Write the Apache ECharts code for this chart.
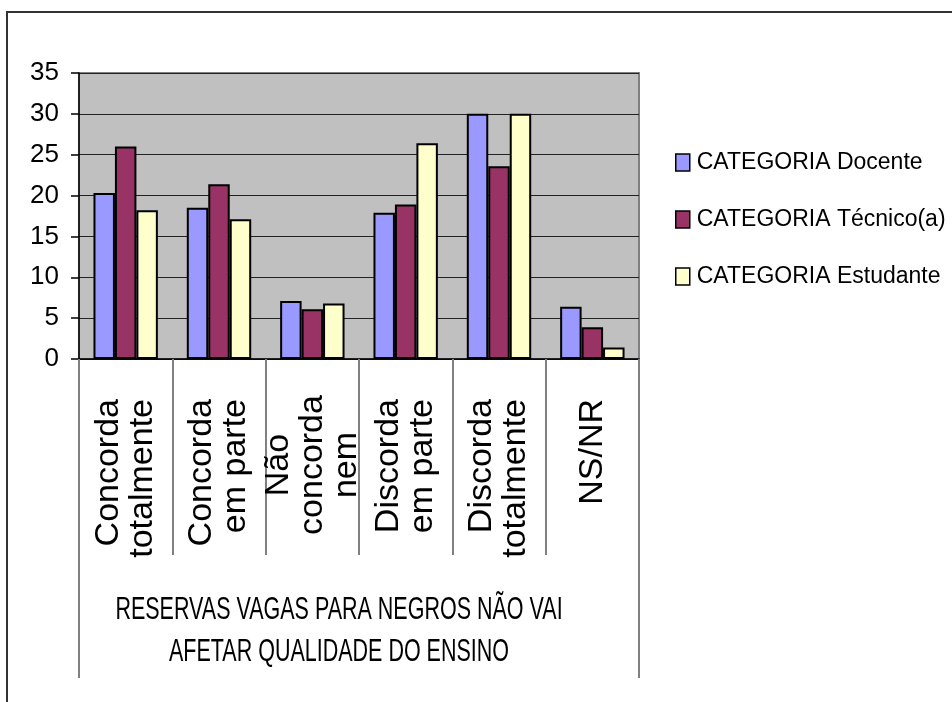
<!DOCTYPE html>
<html>
<head>
<meta charset="utf-8">
<script src="https://cdn.jsdelivr.net/npm/echarts@6/dist/echarts.min.js"></script>
<style>
  html, body { margin: 0; padding: 0; background: #fff; }
  #chart { width: 952px; height: 702px; }
</style>
</head>
<body>
<div id="chart"></div>
<script>
// Answer categories (first level of the category axis)
const categories = [
  'Concorda\ntotalmente',
  'Concorda\nem parte',
  'Não\nconcorda\nnem',
  'Discorda\nem parte',
  'Discorda\ntotalmente',
  'NS/NR'
];
// Group heading (second level of the category axis)
const groupTitle = ['RESERVAS VAGAS PARA NEGROS NÃO VAI\nAFETAR QUALIDADE DO ENSINO'];

const seriesNames = ['CATEGORIA Docente', 'CATEGORIA Técnico(a)', 'CATEGORIA Estudante'];
const docente   = [20.3, 18.5, 7.1, 17.9, 30.0, 6.4];
const tecnico   = [26.0, 21.4, 6.1, 18.9, 23.6, 3.9];
const estudante = [18.2, 17.1, 6.8, 26.4, 30.0, 1.4];

// Value axis range
const yMin = 0, yMax = 35, yStep = 5;

const colors = ['#9999FF', '#993366', '#FFFFCC'];
const FONT = '"Liberation Sans", Arial, sans-serif';

const GRID = { left: 79, top: 73, width: 560, height: 286 };

const chart = echarts.init(document.getElementById('chart'), null, { renderer: 'canvas' });

const barSeries = [docente, tecnico, estudante].map((vals, i) => ({
  name: seriesNames[i],
  type: 'bar',
  data: vals,
  barGap: '0%',
  barCategoryGap: '31%',
  itemStyle: { color: colors[i], borderColor: '#000', borderWidth: 2 },
  emphasis: { disabled: true }
}));

// The three-line label is centred within its own band rather than hung from the axis
const isLong = c => c.split('\n').length > 2;
const categoryItems = categories.map(c =>
  isLong(c) ? { value: c, textStyle: { align: 'center', padding: [0, 132, 0, 0] } } : c
);

chart.setOption({
  backgroundColor: '#fff',
  animation: false,
  color: colors,
  grid: {
    left: GRID.left, top: GRID.top, width: GRID.width, height: GRID.height,
    show: true, backgroundColor: '#C0C0C0', borderColor: '#808080', borderWidth: 2,
    containLabel: false
  },
  legend: {
    orient: 'vertical',
    left: 670,
    top: 146,
    itemWidth: 14,
    itemHeight: 17,
    itemGap: 34,
    icon: 'rect',
    selectedMode: false,
    itemStyle: { borderColor: '#000', borderWidth: 1.5 },
    textStyle: { fontFamily: FONT, fontSize: 23, color: '#000', padding: [0, 0, 0, 2] },
    data: seriesNames
  },
  xAxis: [
    {
      type: 'category',
      data: categoryItems,
      boundaryGap: true,
      axisLine: { show: true, lineStyle: { color: '#000', width: 1.5 } },
      axisTick: { show: true, interval: 0, length: 196, lineStyle: { color: '#808080', width: 2 } },
      axisLabel: {
        interval: 0,
        rotate: 90,
        margin: 40,
        fontFamily: FONT,
        fontSize: 34,
        lineHeight: 34,
        color: '#000'
      },
      splitLine: { show: false }
    },
    {
      type: 'category',
      data: groupTitle,
      position: 'bottom',
      boundaryGap: true,
      axisLine: { show: false },
      axisTick: { show: true, interval: 0, length: 319, lineStyle: { color: '#808080', width: 2 } },
      axisLabel: { show: false },
      splitLine: { show: false }
    }
  ],
  yAxis: {
    type: 'value',
    min: yMin,
    max: yMax,
    interval: yStep,
    axisLine: { show: true, lineStyle: { color: '#000', width: 1.5 } },
    axisTick: { show: true, length: 8, lineStyle: { color: '#000', width: 1.5 } },
    axisLabel: { fontFamily: FONT, fontSize: 26, color: '#000', margin: 20 },
    splitLine: { show: true, lineStyle: { color: '#222', width: 1.2 } }
  },
  series: barSeries,
  graphic: [
    {
      // outer chart frame
      type: 'rect',
      silent: true,
      z: -10,
      shape: { x: 7, y: 12, width: 1000, height: 760 },
      style: { fill: 'none', stroke: '#333', lineWidth: 2 }
    },
    {
      // second-level heading under the categories
      type: 'text',
      silent: true,
      x: 339,
      y: 631,
      scaleY: 1.5,
      style: {
        text: groupTitle[0],
        font: '21.5px ' + FONT,
        fill: '#000',
        textAlign: 'center',
        textVerticalAlign: 'middle',
        lineHeight: 28
      }
    }
  ]
});
</script>
</body>
</html>
